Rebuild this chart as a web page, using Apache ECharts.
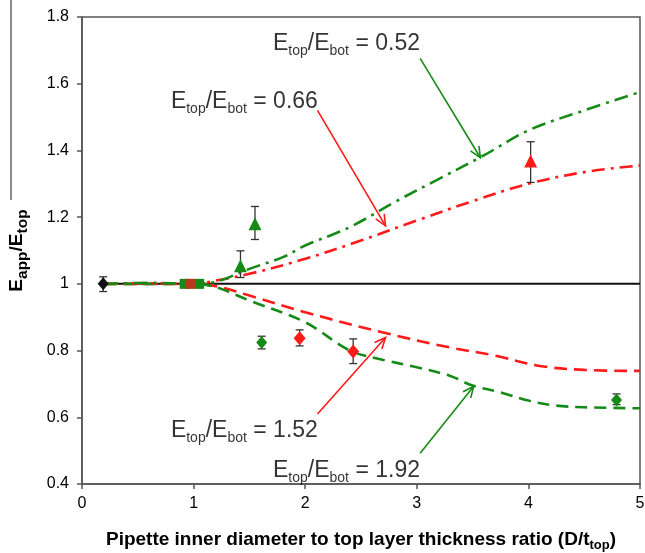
<!DOCTYPE html>
<html><head><meta charset="utf-8">
<script src="https://cdn.jsdelivr.net/npm/echarts@6/dist/echarts.min.js"></script>
<style>html,body{margin:0;padding:0;background:#fff}#c{width:645px;height:553px}</style>
</head><body><div id="c"></div>
<script>
// ---- data ----
const xTicks = [0, 1, 2, 3, 4, 5];
const yTicks = [0.4, 0.6, 0.8, 1.0, 1.2, 1.4, 1.6, 1.8];
const refLine = [[0.2, 1.0], [5, 1.0]];
const curve052 = [[0.2,1.0],[0.6,1.003],[1.0,1.0],[1.2,1.006],[1.5,1.045],[1.8,1.08],[2.0,1.115],[2.4,1.17],[2.8,1.245],[3.2,1.315],[3.6,1.385],[4.0,1.46],[4.5,1.52],[5.0,1.575]];
const curve066 = [[0.2,1.0],[0.6,1.002],[1.0,1.0],[1.2,1.01],[1.5,1.03],[2.0,1.075],[2.5,1.13],[3.0,1.19],[3.5,1.248],[4.0,1.30],[4.5,1.335],[5.0,1.355]];
const curve152 = [[0.2,1.0],[0.6,1.0],[1.0,1.0],[1.2,0.993],[1.5,0.965],[2.0,0.915],[2.7,0.854],[3.3,0.809],[3.7,0.785],[4.1,0.754],[4.5,0.742],[5.0,0.739]];
const curve192 = [[0.2,1.0],[0.6,1.0],[1.0,1.0],[1.2,0.99],[1.5,0.95],[2.0,0.885],[2.4,0.80],[2.7,0.772],[3.0,0.75],[3.3,0.724],[3.5,0.695],[3.75,0.675],[4.0,0.65],[4.25,0.635],[4.5,0.63],[5.0,0.627]];
const blackDiamonds = [[0.19, 1.0]];
const greenDiamonds = [[1.61, 0.824], [4.79, 0.652]];
const redDiamonds = [[1.95, 0.837], [2.43, 0.797]];
const greenTriangles = [[1.42, 1.054], [1.55, 1.18]];
const redTriangles = [[4.02, 1.368]];
const greenSquares = [[0.92, 1.0], [1.05, 1.0]];
const redSquares = [[0.97, 1.0]];
// error bars: [x, low, high]
const errorBars = [[0.19,0.977,1.021],[1.42,1.019,1.099],[1.55,1.133,1.232],[1.61,0.805,0.843],[1.95,0.814,0.862],[2.43,0.761,0.835],[4.02,1.304,1.426],[4.79,0.638,0.67]];
// annotation arrows: [x1, y1, x2, y2]
const greenArrows = [[3.03,1.676,3.57,1.378],[3.03,0.492,3.51,0.693]];
const redArrows = [[2.11,1.52,2.72,1.174],[2.11,0.61,2.72,0.839]];
// annotation labels: [x, y, value text]
const labels = [[2.37,1.72,'0.52'],[1.455,1.545,'0.66'],[1.455,0.559,'1.52'],[2.37,0.44,'1.92']];

const FONT = 'Liberation Sans, Arial, sans-serif';
const GREEN = '#168a16', RED = '#ff1a1a', TXT = '#000';

function lineSeries(data, color, type) {
  return { type: 'line', data, smooth: 0.35, symbol: 'none', z: 3,
    lineStyle: { color, width: 2.6, type } };
}
function scat(data, symbol, size, color) {
  return { type: 'scatter', data, symbol, symbolSize: size, z: 6,
    itemStyle: { color, opacity: 1 } };
}
function arrowSeries(data, color) {
  return { type: 'custom', data, z: 4, silent: true,
    encode: { x: [0, 2], y: [1, 3] },
    itemStyle: { color },
    renderItem(params, api) {
      const a = api.coord([api.value(0), api.value(1)]);
      const b = api.coord([api.value(2), api.value(3)]);
      const ang = Math.atan2(b[1] - a[1], b[0] - a[0]);
      const L = 12, s = 0.42;
      const h1 = [b[0] - L * Math.cos(ang - s), b[1] - L * Math.sin(ang - s)];
      const h2 = [b[0] - L * Math.cos(ang + s), b[1] - L * Math.sin(ang + s)];
      return { type: 'group', children: [
        { type: 'line', shape: { x1: a[0], y1: a[1], x2: b[0], y2: b[1] }, style: { stroke: color, lineWidth: 1.6 } },
        { type: 'polyline', shape: { points: [h1, b, h2] }, style: { stroke: color, fill: null, lineWidth: 1.6 } }
      ]};
    }
  };
}

const chart = echarts.init(document.getElementById('c'), null, { renderer: 'canvas' });
chart.setOption({
  backgroundColor: '#fff',
  animation: false,
  textStyle: { fontFamily: FONT },
  grid: { left: 82, right: 5, top: 17, bottom: 69, show: true, borderColor: '#555', borderWidth: 1.5,
    containLabel: false, outerBoundsMode: 'none' },
  xAxis: {
    type: 'value', min: xTicks[0], max: xTicks[xTicks.length - 1], interval: 1,
    splitLine: { show: false },
    axisLine: { lineStyle: { color: '#555', width: 1.5 } },
    axisTick: { show: true, inside: false, length: 5, lineStyle: { color: '#555', width: 1.5 } },
    axisLabel: { color: TXT, fontSize: 16, margin: 12, fontFamily: FONT },
    name: '{b|Pipette inner diameter to top layer thickness ratio (D/t}{s|top}{b|)}',
    nameLocation: 'middle', nameGap: 44,
    nameTextStyle: { rich: {
      b: { fontSize: 19, fontWeight: 'bold', color: TXT, fontFamily: FONT, lineHeight: 24 },
      s: { fontSize: 13, fontWeight: 'bold', color: TXT, fontFamily: FONT, lineHeight: 13, padding: [10, 0, 0, 0] }
    } }
  },
  yAxis: {
    type: 'value', min: yTicks[0], max: yTicks[yTicks.length - 1], interval: 0.2,
    splitLine: { show: false },
    axisLine: { show: true, lineStyle: { color: '#555', width: 1.5 } },
    axisTick: { show: true, inside: false, length: 5, lineStyle: { color: '#555', width: 1.5 } },
    axisLabel: { color: TXT, fontSize: 16, margin: 13, fontFamily: FONT,
      formatter: v => (Math.abs(v - 1) < 1e-9 ? '1' : v.toFixed(1)) },
    name: '{b|E}{s|app}{b|/E}{s|top}',
    nameLocation: 'middle', nameGap: 52, nameRotate: 90,
    nameTextStyle: { rich: {
      b: { fontSize: 19, fontWeight: 'bold', color: TXT, fontFamily: FONT, lineHeight: 26 },
      s: { fontSize: 15.5, fontWeight: 'bold', color: TXT, fontFamily: FONT, lineHeight: 15, padding: [11, 0, 0, 0] }
    } }
  },
  graphic: [
    { type: 'line', shape: { x1: 11, y1: 0, x2: 11, y2: 200 }, style: { stroke: '#666', lineWidth: 1.5 } }
  ],
  series: [
    { type: 'line', data: refLine, symbol: 'none', z: 2, lineStyle: { color: '#111', width: 2 } },
    lineSeries(curve152, RED, [13, 7]),
    lineSeries(curve192, GREEN, [12, 7]),
    lineSeries(curve066, RED, [13, 6, 3, 6]),
    lineSeries(curve052, GREEN, [14, 6, 3, 6]),
    arrowSeries(greenArrows, GREEN),
    arrowSeries(redArrows, RED),
    { type: 'custom', data: errorBars, z: 5, silent: true,
      encode: { x: 0, y: [1, 2] },
      renderItem(params, api) {
        const x = api.value(0);
        const p1 = api.coord([x, api.value(2)]);
        const p2 = api.coord([x, api.value(1)]);
        const w = 4, st = { stroke: '#333', lineWidth: 1.3 };
        return { type: 'group', children: [
          { type: 'line', shape: { x1: p1[0], y1: p1[1], x2: p2[0], y2: p2[1] }, style: st },
          { type: 'line', shape: { x1: p1[0] - w, y1: p1[1], x2: p1[0] + w, y2: p1[1] }, style: st },
          { type: 'line', shape: { x1: p2[0] - w, y1: p2[1], x2: p2[0] + w, y2: p2[1] }, style: st }
        ]};
      }
    },
    scat(greenSquares, 'rect', 10, GREEN),
    scat(redSquares, 'rect', 10, '#b33a1a'),
    scat(blackDiamonds, 'diamond', [11, 13], '#111'),
    scat(greenDiamonds, 'diamond', [11, 13], GREEN),
    scat(redDiamonds, 'diamond', [12, 14], RED),
    scat(greenTriangles, 'triangle', [13, 13], GREEN),
    scat(redTriangles, 'triangle', [13, 13], RED),
    { type: 'scatter', data: labels.map(l => [l[0], l[1], l[2]]), symbolSize: 1, z: 7, silent: true,
      itemStyle: { color: 'rgba(0,0,0,0)' },
      label: { show: true, position: 'inside',
        formatter: p => '{m|E}{s|top}{m|/E}{s|bot}{m| = ' + p.value[2] + '}',
        rich: {
          m: { fontSize: 23, color: TXT, fontFamily: FONT, lineHeight: 30 },
          s: { fontSize: 14, color: TXT, fontFamily: FONT, lineHeight: 14, padding: [14, 0, 0, 0] }
        } }
    }
  ]
});
</script>
</body></html>
